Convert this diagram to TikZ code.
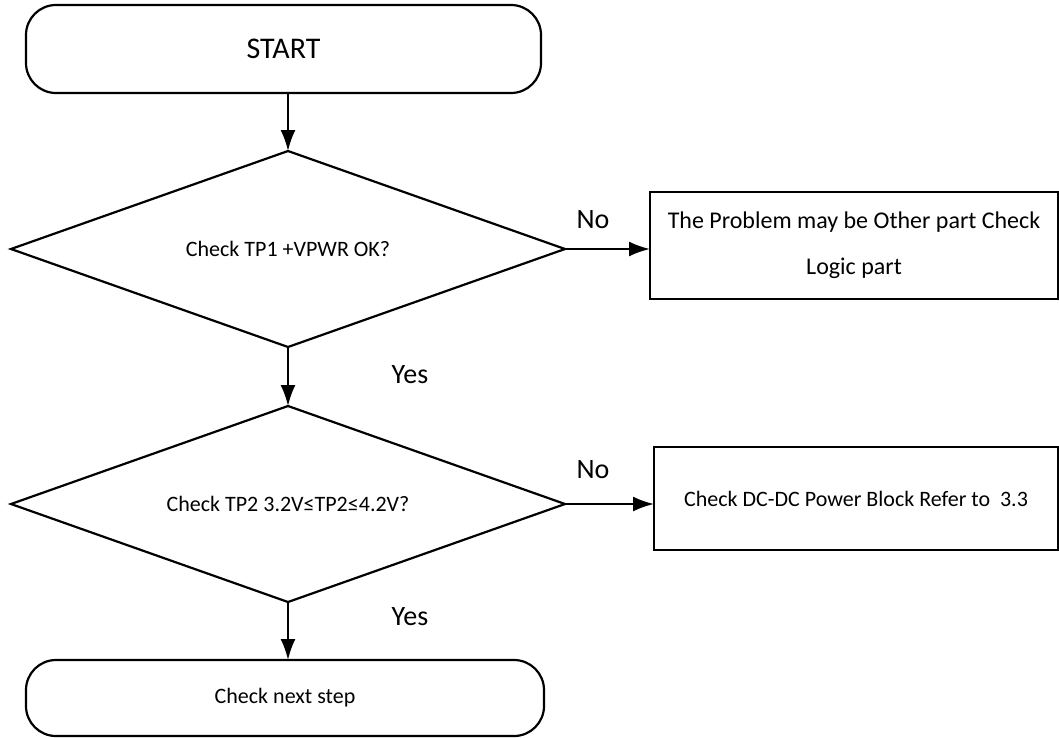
\documentclass[tikz,border=0pt]{standalone}
\usepackage{fontspec}
\setmainfont{Carlito}
\usetikzlibrary{shapes.geometric,arrows.meta}
\begin{document}
\begin{tikzpicture}[x=1pt,y=-1pt,line width=2.2pt,
  term/.style={draw,rounded corners=30pt,inner sep=0pt,outer sep=0pt,align=center},
  dec/.style={draw,diamond,aspect=2.8,minimum width=554pt,minimum height=196pt,inner sep=0pt,outer sep=0pt,font=\fontsize{22}{26}\selectfont},
  box/.style={draw,inner sep=0pt,outer sep=0pt,align=center,font=\fontsize{24}{46}\selectfont},
  lbl/.style={font=\fontsize{28}{32}\selectfont,inner sep=0pt},
  arr/.style={-{Latex[length=21pt,width=15pt]}}]
\useasboundingbox (0,0) rectangle (1059,737);
\node[term,minimum width=515pt,minimum height=88pt,font=\fontsize{30}{34}\selectfont] (start) at (283.5,49) {START};
\node[dec] (d1) at (288,249) {Check TP1 +VPWR OK?};
\node[box,minimum width=408pt,minimum height=107pt] (b1) at (854,245.5) {The Problem may be Other part Check\\Logic part};
\node[dec] (d2) at (288,504) {Check TP2 3.2V≤TP2≤4.2V?};
\node[box,minimum width=404pt,minimum height=103pt,font=\fontsize{22}{26}\selectfont] (b2) at (856,498.5) {Check DC-DC Power Block Refer to\ \ 3.3};
\node[term,minimum width=518pt,minimum height=76pt,font=\fontsize{22}{26}\selectfont] (end) at (285,698) {Check next step};
\node[lbl] (no1) at (593,220) {No};
\node[lbl] (no2) at (593,470) {No};
\node[lbl] (yes1) at (410,375) {Yes};
\node[lbl] (yes2) at (410,617) {Yes};
\draw[arr] (start.south -| d1.north) -- (d1.north);
\draw[arr] (d1.east) -- (d1.east -| b1.west);
\draw[arr] (d1.south) -- (d2.north);
\draw[arr] (d2.east) -- (d2.east -| b2.west);
\draw[arr] (d2.south) -- (d2.south |- end.north);
\end{tikzpicture}
\end{document}
